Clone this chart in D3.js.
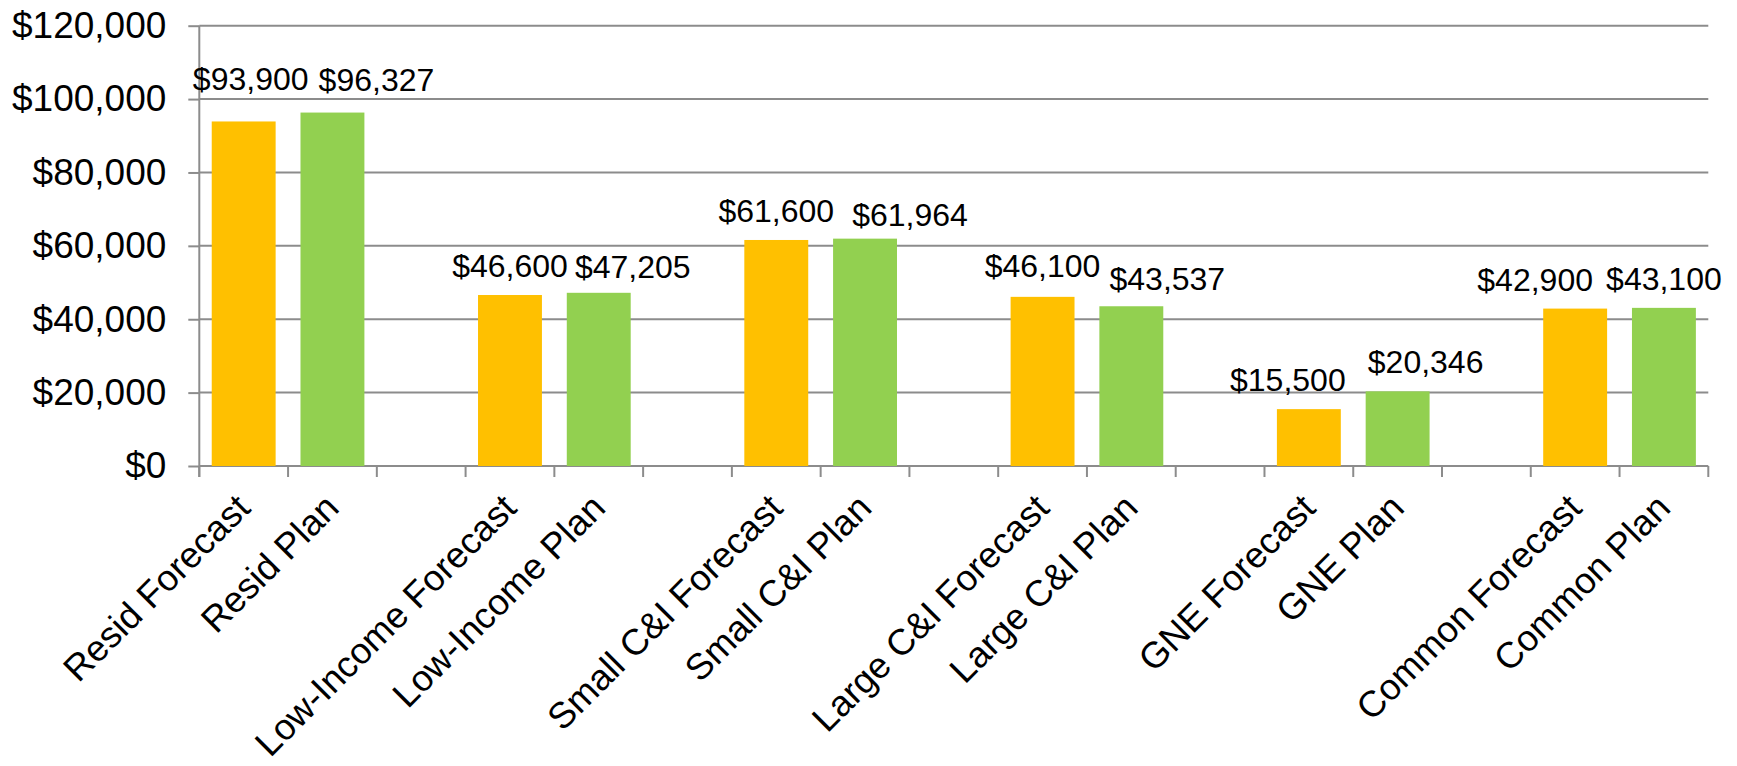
<!DOCTYPE html>
<html>
<head>
<meta charset="utf-8">
<script src="https://cdn.jsdelivr.net/npm/d3@7"></script>
<style>
  html, body { margin: 0; padding: 0; background: #fff; }
  svg { display: block; }
  text { font-family: "Liberation Sans", Arial, sans-serif; fill: #000; }
</style>
</head>
<body>
<svg id="chart" width="1737" height="766"></svg>
<script>
// Program groups, each shown as a Forecast bar and a Plan bar
const groups = ["Resid", "Low-Income", "Small C&I", "Large C&I", "GNE", "Common"];
const forecastValues = [93900, 46600, 61600, 46100, 15500, 42900];
const planValues = [96327, 47205, 61964, 43537, 20346, 43100];
const yTicks = [0, 20000, 40000, 60000, 80000, 100000, 120000];

// Hand-placed label offsets [dx, dy] in px, relative to the centred default
const forecastLabelNudge = [[7, -13.5], [0, 0], [0, 0], [0, -2], [-21, 0], [-40, 0]];
const planLabelNudge = [[44, -4], [34, 3.5], [45, 5.4], [36, 2], [28, 0], [0, 0]];

const colors = { Forecast: "#FFC000", Plan: "#92D050" };

// Build the category slots: two bars per group, an empty slot between groups
const slots = [];
groups.forEach((g, i) => {
  slots.push({ key: g + " Forecast", label: g + " Forecast", kind: "Forecast", value: forecastValues[i], nudge: forecastLabelNudge[i] });
  slots.push({ key: g + " Plan", label: g + " Plan", kind: "Plan", value: planValues[i], nudge: planLabelNudge[i] });
  if (i < groups.length - 1) slots.push({ key: "gap" + i, label: "", kind: null });
});

const svg = d3.select("#chart");
const plotLeft = 199.3, plotRight = 1708.3, plotTop = 25.7, plotBottom = 466;
const axisColor = "#8c8c8c";

const x = d3.scaleBand()
  .domain(slots.map(d => d.key))
  .range([plotLeft, plotRight])
  .paddingInner(0.28)
  .paddingOuter(0.14);

const y = d3.scaleLinear().domain([0, 120000]).range([plotBottom, plotTop]);

const step = (plotRight - plotLeft) / slots.length;

// Horizontal gridlines
svg.append("g")
  .selectAll("line")
  .data(yTicks.filter(t => t > 0))
  .join("line")
  .attr("x1", plotLeft).attr("x2", plotRight)
  .attr("y1", d => y(d)).attr("y2", d => y(d))
  .attr("stroke", axisColor).attr("stroke-width", 2);

// Y axis
const yAxis = svg.append("g")
  .attr("transform", `translate(${plotLeft},0)`)
  .call(d3.axisLeft(y).tickValues(yTicks).tickSize(11).tickPadding(22).tickFormat(d3.format("$,")));
yAxis.select(".domain").attr("stroke", axisColor).attr("stroke-width", 2)
  .attr("d", `M0,${plotTop}V${plotBottom + 11}`);
yAxis.selectAll(".tick line").attr("stroke", axisColor).attr("stroke-width", 2);
yAxis.selectAll(".tick text").attr("font-size", 37).attr("fill", "#000")
  .style("font-family", "'Liberation Sans', Arial, sans-serif");

// X axis line with tick marks on slot boundaries
const xg = svg.append("g");
xg.append("line")
  .attr("x1", plotLeft).attr("x2", plotRight)
  .attr("y1", plotBottom).attr("y2", plotBottom)
  .attr("stroke", axisColor).attr("stroke-width", 2);
xg.selectAll("line.tick")
  .data(d3.range(slots.length + 1))
  .join("line")
  .attr("class", "tick")
  .attr("x1", i => plotLeft + i * step).attr("x2", i => plotLeft + i * step)
  .attr("y1", plotBottom).attr("y2", plotBottom + 11)
  .attr("stroke", axisColor).attr("stroke-width", 2);

// Bars
const bars = slots.filter(d => d.kind);
svg.append("g")
  .selectAll("rect")
  .data(bars)
  .join("rect")
  .attr("x", d => x(d.key))
  .attr("width", x.bandwidth())
  .attr("y", d => y(d.value))
  .attr("height", d => y(0) - y(d.value))
  .attr("fill", d => colors[d.kind]);

// Value labels
svg.append("g")
  .selectAll("text")
  .data(bars)
  .join("text")
  .attr("x", d => x(d.key) + x.bandwidth() / 2 + d.nudge[0])
  .attr("y", d => y(d.value) - 18 + d.nudge[1])
  .attr("text-anchor", "middle")
  .attr("font-size", 32)
  .text(d => d3.format("$,")(d.value));

// Rotated category labels
svg.append("g")
  .selectAll("text")
  .data(bars)
  .join("text")
  .attr("transform", d => `translate(${x(d.key) + x.bandwidth() / 2 + 8.5},${plotBottom + 44}) rotate(-45)`)
  .attr("text-anchor", "end")
  .attr("font-size", 36.5)
  .text(d => d.label);
</script>
</body>
</html>
